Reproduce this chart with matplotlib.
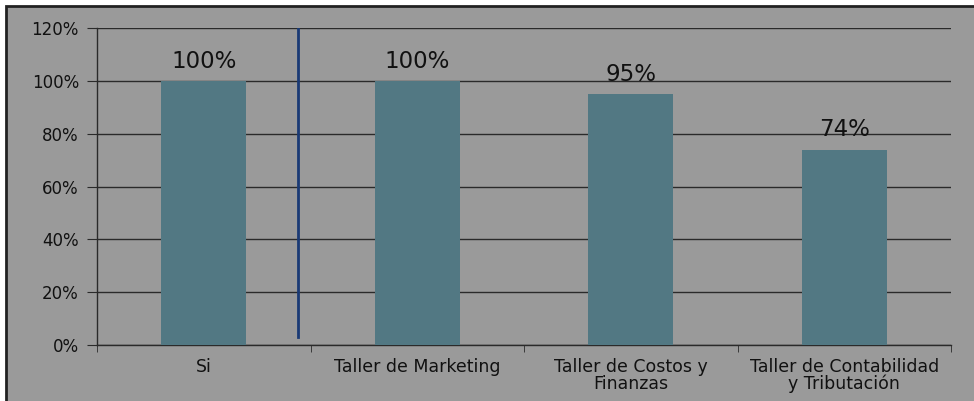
import matplotlib.pyplot as plt
from matplotlib.ticker import FuncFormatter, FixedLocator

plt.rcParams['font.family'] = ['DejaVu Sans']

# datos del grafico
categorias = ["Si", "Taller de Marketing", "Taller de Costos y\nFinanzas",
              "Taller de Contabilidad\ny Tributación"]
porcentajes = [100, 100, 95, 74]
etiquetas = ["100%", "100%", "95%", "74%"]

fondo = "#9a9a9a"
color_barra = "#527883"

fig = plt.figure(figsize=(9.74, 4.01), dpi=100, facecolor="white")
# marco del grafico
fig.patches.append(plt.Rectangle((6 / 974, -0.05), 1.1, (401 - 6) / 401 + 0.05,
                                 transform=fig.transFigure, facecolor=fondo,
                                 edgecolor="#222222", linewidth=2, zorder=-5))

ax = fig.add_axes([97 / 974, 1 - 345 / 401, (951 - 97) / 974, (345 - 28) / 401])
ax.set_facecolor(fondo)

x = range(len(categorias))
ax.bar(x, porcentajes, width=0.4, color=color_barra, zorder=3)

for xi, v, t in zip(x, porcentajes, etiquetas):
    ax.annotate(t, (xi, v), xytext=(0, 6), textcoords="offset points",
                ha="center", va="bottom", fontsize=16.5, color="#111111")

ax.set_xlim(-0.5, len(categorias) - 0.5)
ax.set_ylim(0, 120)
ax.set_yticks(range(0, 121, 20))
ax.yaxis.set_major_formatter(FuncFormatter(lambda v, p: f"{int(v)}%"))
ax.grid(axis="y", color="#2a2a2a", linewidth=1, zorder=1)
ax.set_axisbelow(True)

ax.set_xticks(list(x))
ax.set_xticklabels(categorias, fontsize=12.5, color="#111111", linespacing=0.95)
ax.xaxis.set_minor_locator(FixedLocator([i - 0.5 for i in range(len(categorias) + 1)]))
ax.tick_params(axis="x", which="major", length=0, pad=9)
ax.tick_params(axis="x", which="minor", length=5, color="#2a2a2a", direction="out")
ax.tick_params(axis="y", length=7, color="#2a2a2a", labelsize=12,
               labelcolor="#111111", pad=6)

for s in ["top", "right"]:
    ax.spines[s].set_visible(False)
for s in ["left", "bottom"]:
    ax.spines[s].set_color("#2a2a2a")
    ax.spines[s].set_linewidth(1)

# linea vertical azul
ax.axvline(0.44, ymin=0.025, ymax=1.0, color="#1a3a75", linewidth=2, zorder=4)

fig.savefig("out.png", dpi=100, facecolor="white")
